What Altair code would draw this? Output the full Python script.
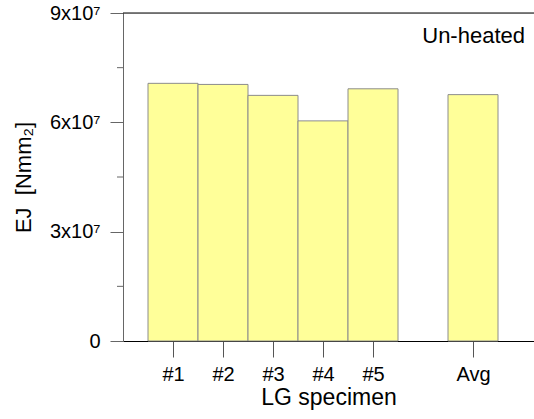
import altair as alt
import pandas as pd

# Flexural rigidity EJ of the un-heated LG specimens and their average
specimens = ["#1", "#2", "#3", "#4", "#5", "Avg"]
slots = [1, 2, 3, 4, 5, 7]
ej_values = [7.07e7, 7.04e7, 6.74e7, 6.04e7, 6.92e7, 6.76e7]

y_major = [0, 3e7, 6e7, 9e7]
y_major_labels = ["0", "3x10⁷", "6x10⁷", "9x10⁷"]
y_minor = [1.5e7, 4.5e7, 7.5e7]

FONT = "Liberation Sans"

df = pd.DataFrame({"specimen": specimens, "slot": slots, "ej": ej_values})
df["lo"] = df["slot"] - 0.5
df["hi"] = df["slot"] + 0.5

x_label_expr = " : ".join(
    f"datum.value == {s} ? '{lab}'" for s, lab in zip(slots, specimens)
) + " : ''"
y_label_expr = " : ".join(
    f"datum.value == {v:.0f} ? '{lab}'" for v, lab in zip(y_major, y_major_labels)
) + " : ''"

x_scale = alt.Scale(domain=[0, 8.22], nice=False, zero=False)
y_scale = alt.Scale(domain=[0, 9e7], nice=False)

bars = alt.Chart(df).mark_bar(
    color="#FFFF99", stroke="#8c8c8c", strokeWidth=1
).encode(
    x=alt.X(
        "lo:Q",
        scale=x_scale,
        axis=alt.Axis(
            values=slots,
            labelExpr=x_label_expr,
            title="LG specimen",
            grid=False,
            domainColor="#000000",
            tickColor="#555555",
            tickSize=16,
            labelPadding=7,
            labelFont=FONT,
            labelFontSize=20,
            labelColor="#000000",
            titleFont=FONT,
            titleFontSize=23,
            titleFontWeight="normal",
            titleColor="#000000",
            titlePadding=2,
        ),
    ),
    x2="hi:Q",
    y=alt.Y(
        "ej:Q",
        scale=y_scale,
        axis=alt.Axis(
            values=y_major,
            labelExpr=y_label_expr,
            title="EJ\u00a0\u00a0[Nmm₂]",
            grid=False,
            domainColor="#666666",
            tickColor="#666666",
            tickSize=13,
            labelPadding=10,
            labelFont=FONT,
            labelFontSize=20,
            labelColor="#000000",
            titleFont=FONT,
            titleFontSize=22,
            titleFontWeight="normal",
            titleColor="#000000",
            titlePadding=14,
        ),
    ),
    y2=alt.datum(0),
)

# short minor ticks on the value axis
minor = alt.Chart(pd.DataFrame({"v": y_minor})).mark_rule(
    color="#666666", strokeWidth=1
).encode(
    x=alt.value(-6),
    x2=alt.value(0),
    y=alt.Y("v:Q", scale=y_scale),
)

# top frame line at the upper end of the value scale
top = alt.Chart(pd.DataFrame({"v": [9e7]})).mark_rule(
    color="#000000", strokeWidth=1
).encode(
    x=alt.value(0),
    x2=alt.value(411),
    y=alt.Y("v:Q", scale=y_scale),
)

label = alt.Chart(pd.DataFrame({"t": ["Un-heated"]})).mark_text(
    font=FONT, fontSize=22, align="right", baseline="alphabetic", color="#000000"
).encode(
    x=alt.value(402),
    y=alt.value(30),
    text="t:N",
)

chart = alt.layer(bars, minor, top, label).properties(
    width=411,
    height=328,
    autosize=alt.AutoSizeParams(type="none"),
    padding={"left": 123, "top": 13, "right": 0, "bottom": 78},
).configure_view(stroke=None).configure(background="white")

chart.save("out.html", embed_options={"renderer": "svg", "actions": False})
